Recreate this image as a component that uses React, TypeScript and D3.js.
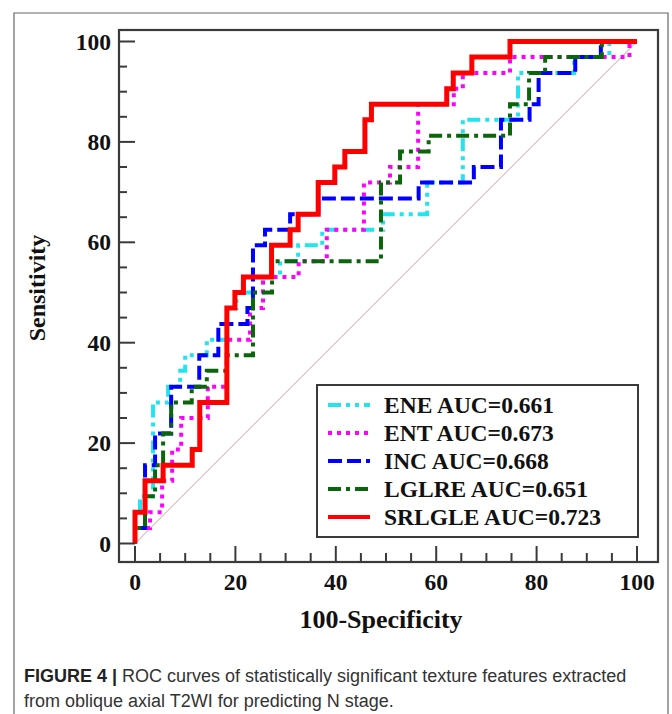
import React from 'react';
import * as d3 from 'd3';

// tick labels
const xTicks = [0, 20, 40, 60, 80, 100];
const yTicks = [0, 20, 40, 60, 80, 100];

// ROC corner points (100-specificity, sensitivity)
const eneFpr = [0, 0, 1, 3.6, 6.6, 9, 10, 14.3, 18.3, 20.2, 25.5, 28.9, 32.5, 37.3, 49.4, 58.2, 65.3, 76.3, 87.5, 94.5, 100];
const eneTpr = [0, 6.25, 9.4, 28.1, 31.25, 34.4, 37.5, 40.6, 46.9, 50, 53.1, 56.25, 59.4, 62.5, 65.6, 71.9, 84.4, 93.75, 96.9, 100, 100];

const entFpr = [0, 0, 3, 5.4, 7.4, 9.2, 14.5, 18.3, 22.9, 25.5, 32.6, 38.2, 45.6, 50.8, 56.4, 63.5, 65.3, 74.7, 98.5, 100];
const entTpr = [0, 3.1, 6.25, 12.5, 18.75, 25, 31.25, 40.6, 46.9, 53.1, 56.25, 62.5, 71.9, 75, 87.5, 90.6, 93.75, 96.9, 100, 100];

const incFpr = [0, 0, 2, 4, 7.2, 12.8, 16.6, 22.4, 23.5, 25.9, 30.9, 36.5, 56.5, 67.5, 72.9, 78.6, 80.4, 87.7, 92.8, 100];
const incTpr = [0, 3.1, 15.6, 21.9, 31.25, 37.5, 43.75, 46.9, 59.4, 62.5, 65.6, 68.75, 71.9, 75, 84.4, 87.5, 93.75, 96.9, 100, 100];

const lglreFpr = [0, 0, 2, 4, 5.6, 7.2, 11.3, 14.3, 18.3, 23.5, 27.3, 49, 52.8, 58.5, 74.7, 78.5, 81.7, 93, 100];
const lglreTpr = [0, 3.1, 9.4, 15.6, 21.9, 28.1, 31.25, 34.4, 37.5, 50, 56.25, 71.9, 78.1, 81.25, 87.5, 93.75, 96.9, 100, 100];

const srlgleFpr = [0, 0, 2, 5.6, 11.4, 12.9, 18.3, 19.9, 21.6, 27.2, 30.9, 32.5, 36.5, 39.8, 41.8, 45.8, 47.1, 62.1, 63.4, 67.1, 74.7, 100];
const srlgleTpr = [0, 6.25, 12.5, 15.6, 18.75, 28.1, 46.9, 50, 53.1, 59.4, 62.5, 65.6, 71.9, 75, 78.1, 84.4, 87.5, 90.6, 93.75, 96.9, 100, 100];

const names = ['ENE', 'ENT', 'INC', 'LGLRE', 'SRLGLE'];
const aucs = ['0.661', '0.673', '0.668', '0.651', '0.723'];

const series = [
  { fpr: eneFpr, tpr: eneTpr, color: '#22e4ee', dash: '13,5,4,5,4,5', width: 4 },
  { fpr: entFpr, tpr: entTpr, color: '#ff00ff', dash: '4,5', width: 4 },
  { fpr: incFpr, tpr: incTpr, color: '#0000ff', dash: '14,5', width: 4 },
  { fpr: lglreFpr, tpr: lglreTpr, color: '#0b660b', dash: '13,5,4,5', width: 4 },
  { fpr: srlgleFpr, tpr: srlgleTpr, color: '#ff0000', dash: null, width: 5 },
];

const serif = '"Liberation Serif", "Times New Roman", serif';
const sans = '"Liberation Sans", Arial, sans-serif';

export default function App() {
  const frame = { left: 119, top: 30, right: 658, bottom: 562 };
  const x = d3.scaleLinear().domain([0, 100]).range([135, 637]);
  const y = d3.scaleLinear().domain([0, 100]).range([543.5, 41.5]);
  const minor = d3.range(0, 101, 5);

  const line = d3.line<[number, number]>()
    .x(d => x(d[0]))
    .y(d => y(d[1]))
    .curve(d3.curveStepAfter);

  const legend = { x: 317, y: 385, w: 321, h: 152, row: 28 };

  return (
    <svg width={672} height={714} style={{ position: 'absolute', left: 0, top: 0, background: '#fff' }}>
      {/* outer figure box, open at the bottom */}
      <path d="M14,720 V13 H668 V720" fill="none" stroke="#666" strokeWidth={1.2} />

      {/* chance line */}
      <line x1={x(0)} y1={y(0)} x2={x(100)} y2={y(100)} stroke="#cf9a9a" strokeWidth={1} />

      {/* curves */}
      {series.map((s, i) => (
        <path
          key={names[i]}
          d={line(s.fpr.map((f, j) => [f, s.tpr[j]] as [number, number])) || ''}
          fill="none"
          stroke={s.color}
          strokeWidth={s.width}
          strokeDasharray={s.dash || undefined}
          strokeLinejoin="miter"
        />
      ))}

      {/* frame */}
      <rect x={frame.left} y={frame.top} width={frame.right - frame.left} height={frame.bottom - frame.top}
        fill="none" stroke="#3a3a3a" strokeWidth={2.2} />

      {/* y ticks */}
      {minor.map(t => (
        <line key={'yt' + t} x1={frame.left} x2={frame.left + (t % 20 === 0 ? 16 : 8)} y1={y(t)} y2={y(t)}
          stroke="#3a3a3a" strokeWidth={2} />
      ))}
      {yTicks.map(t => (
        <text key={'yl' + t} x={111} y={y(t) + 8} textAnchor="end" fontFamily={serif} fontWeight="bold" fontSize={23.5} fill="#111">
          {t}
        </text>
      ))}

      {/* x ticks */}
      {minor.map(t => (
        <line key={'xt' + t} x1={x(t)} x2={x(t)} y1={frame.bottom} y2={frame.bottom - (t % 20 === 0 ? 16 : 9)}
          stroke="#3a3a3a" strokeWidth={2} />
      ))}
      {xTicks.map(t => (
        <text key={'xl' + t} x={x(t)} y={590} textAnchor="middle" fontFamily={serif} fontWeight="bold" fontSize={23.5} fill="#111">
          {t}
        </text>
      ))}

      {/* axis titles */}
      <text x={381} y={628} textAnchor="middle" fontFamily={serif} fontWeight="bold" fontSize={26} fill="#111">
        100-Specificity
      </text>
      <text transform="translate(45,288) rotate(-90)" textAnchor="middle" fontFamily={serif} fontWeight="bold" fontSize={24} fill="#111">
        Sensitivity
      </text>

      {/* legend */}
      <rect x={legend.x} y={legend.y} width={legend.w} height={legend.h} fill="#fff" stroke="#3a3a3a" strokeWidth={2} />
      {series.map((s, i) => {
        const cy = 405 + i * legend.row;
        return (
          <g key={'lg' + i}>
            <line x1={328} x2={370} y1={cy} y2={cy} stroke={s.color} strokeWidth={4} strokeDasharray={s.dash || undefined} />
            <text x={384} y={cy + 8} fontFamily={serif} fontWeight="bold" fontSize={23.5} fill="#111">
              {names[i]} AUC={aucs[i]}
            </text>
          </g>
        );
      })}

      {/* caption */}
      <text x={24} y={682} fontFamily={sans} fontSize={18} fill="#333">
        <tspan fontWeight="bold" fill="#222">FIGURE 4 | </tspan>
        ROC curves of statistically significant texture features extracted
      </text>
      <text x={24} y={707} fontFamily={sans} fontSize={18} fill="#333">
        from oblique axial T2WI for predicting N stage.
      </text>
    </svg>
  );
}
